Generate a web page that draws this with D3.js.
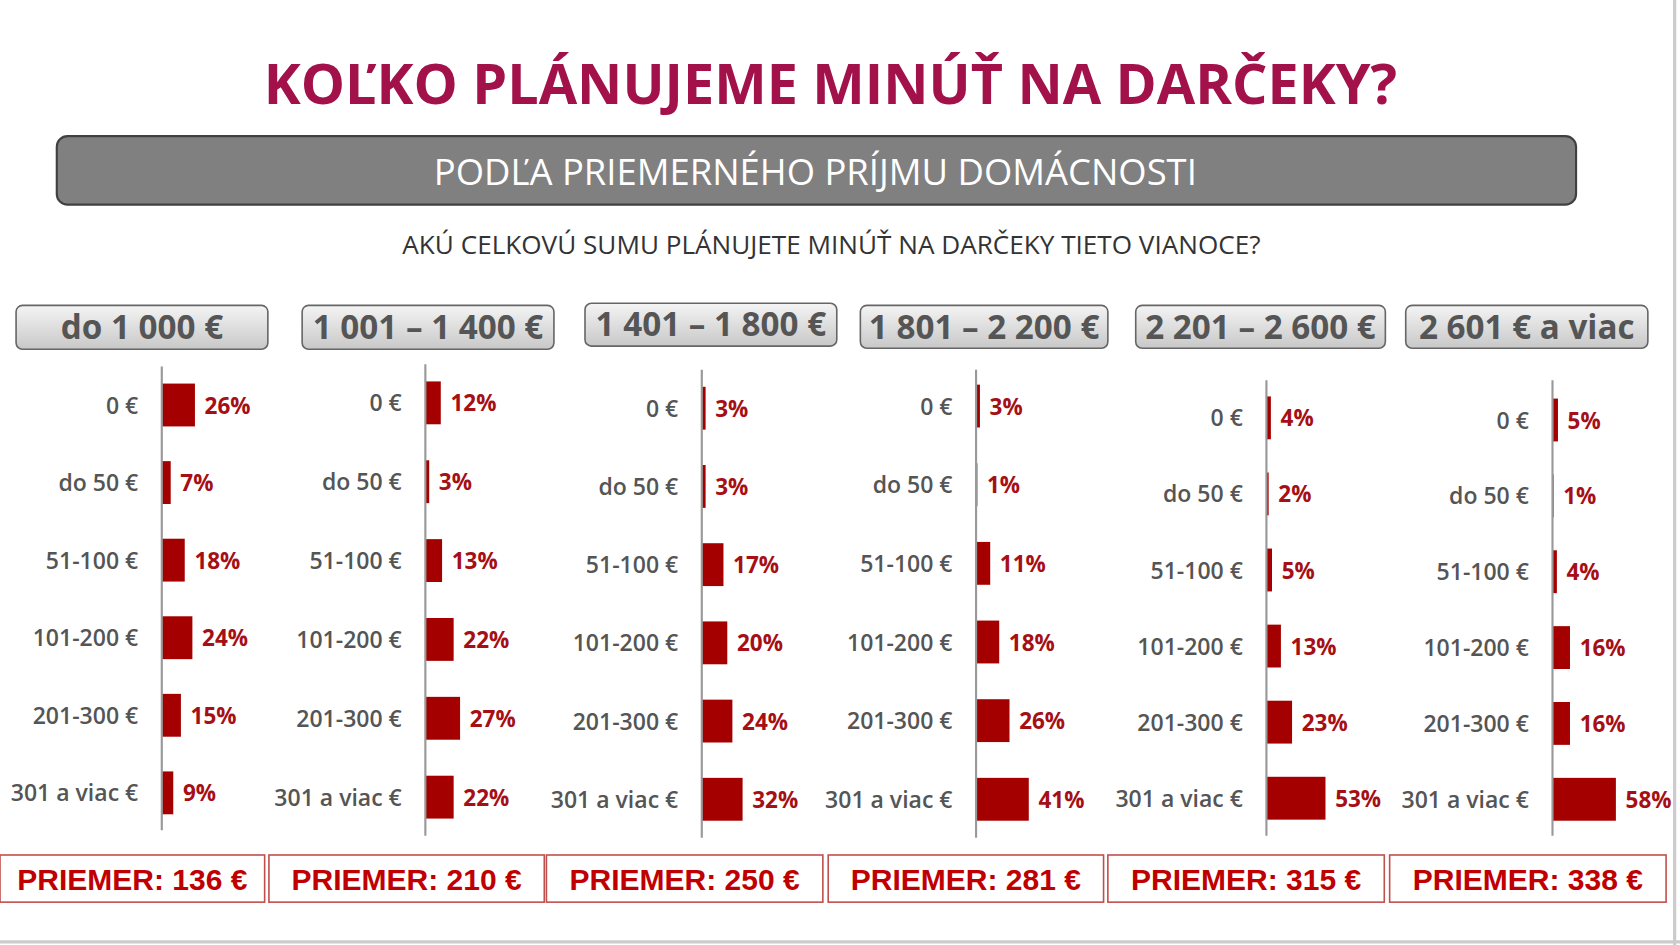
<!DOCTYPE html>
<html><head><meta charset="utf-8">
<script src="https://cdn.jsdelivr.net/npm/d3@7"></script>
<style>body{margin:0;background:#fff}svg{display:block}</style>
</head><body>
<script>
const title = "KOĽKO PLÁNUJEME MINÚŤ NA DARČEKY?";
const banner = "PODĽA PRIEMERNÉHO PRÍJMU DOMÁCNOSTI";
const question = "AKÚ CELKOVÚ SUMU PLÁNUJETE MINÚŤ NA DARČEKY TIETO VIANOCE?";
const groups = ["do 1 000 €","1 001 – 1 400 €","1 401 – 1 800 €","1 801 – 2 200 €","2 201 – 2 600 €","2 601 € a viac"];
const categories = ["0 €","do 50 €","51-100 €","101-200 €","201-300 €","301 a viac €"];
const values = [
  [26,7,18,24,15,9],
  [12,3,13,22,27,22],
  [3,3,17,20,24,32],
  [3,1,11,18,26,41],
  [4,2,5,13,23,53],
  [5,1,4,16,16,58]
];
const averages = [136,210,250,281,315,338];

// layout (in 1568x882 design space)
const headerBoxes = [[15,285,235,41],[282,285,235,41],[546,283,235,40],[803,285,231,40],[1060,285,233,40],[1312,285,226,40]];
const axisX = [151,397,655,911,1182,1449];
const axisY = [[342,775],[340,780],[345,782],[345,782],[355,780],[355,780]];
const rowFirst = [378,376,381,379,390,392], rowLast = [740,744,746,746,745,746];
const pxPerPct = [1.19,1.2,1.19,1.2,1.04,1.02];
const avgBoxes = [[0,247],[251,508],[510,768],[773,1030],[1034,1292],[1297,1555]];

const svg = d3.select("body").append("svg").attr("width",1680).attr("height",945).attr("viewBox","0 0 1568 882");
const defs = svg.append("defs");
const gr = defs.append("linearGradient").attr("id","hg").attr("x1",0).attr("y1",0).attr("x2",0).attr("y2",1);
gr.append("stop").attr("offset","0%").attr("stop-color","#f4f4f4");
gr.append("stop").attr("offset","100%").attr("stop-color","#c8c8c8");

svg.append("line").attr("x1",1563).attr("x2",1563).attr("y1",0).attr("y2",882).attr("stroke","#ccc").attr("stroke-width",3);
svg.append("line").attr("x1",0).attr("x2",1568).attr("y1",879).attr("y2",879).attr("stroke","#ccc").attr("stroke-width",3);

svg.append("text").attr("x",775).attr("y",97).attr("text-anchor","middle")
  .attr("font-family","Open Sans, sans-serif").attr("font-weight",700).attr("font-size",52).attr("fill","#A2114A").text(title);
svg.append("rect").attr("x",53).attr("y",127).attr("width",1418).attr("height",64).attr("rx",10)
  .attr("fill","#808080").attr("stroke","#404040").attr("stroke-width",2);
svg.append("text").attr("x",761).attr("y",173).attr("text-anchor","middle")
  .attr("font-family","Open Sans, sans-serif").attr("font-size",34).attr("fill","#fff").text(banner);
svg.append("text").attr("x",776).attr("y",237).attr("text-anchor","middle")
  .attr("font-family","Open Sans, sans-serif").attr("font-size",24.4).attr("fill","#333").text(question);

groups.forEach((gname,i)=>{
  const g = svg.append("g");
  const [hx,hy,hw,hh] = headerBoxes[i];
  g.append("rect").attr("x",hx).attr("y",hy).attr("width",hw).attr("height",hh).attr("rx",6)
    .attr("fill","url(#hg)").attr("stroke","#666").attr("stroke-width",1.5);
  g.append("text").attr("x",hx+hw/2).attr("y",hy+hh/2+11).attr("text-anchor","middle")
    .attr("font-family","Open Sans, sans-serif").attr("font-weight",700).attr("font-size",31).attr("fill","#555").text(gname);

  const y = d3.scalePoint().domain(categories).range([rowFirst[i],rowLast[i]]);
  const x = d3.scaleLinear().domain([0,100]).range([axisX[i],axisX[i]+100*pxPerPct[i]]);
  const bh = 40;
  g.selectAll("rect.bar").data(values[i]).join("rect").attr("class","bar")
    .attr("x",x(0)).attr("y",(d,j)=>y(categories[j])-bh/2).attr("width",d=>x(d)-x(0)).attr("height",bh).attr("fill","#A50000");
  g.selectAll("text.val").data(values[i]).join("text").attr("class","val")
    .attr("x",d=>x(d)+9).attr("y",(d,j)=>y(categories[j])+8)
    .attr("font-family","Open Sans, sans-serif").attr("font-weight",700).attr("font-size",21).attr("fill","#A50F15").text(d=>d+"%");
  g.selectAll("text.cat").data(categories).join("text").attr("class","cat")
    .attr("x",axisX[i]-22).attr("y",d=>y(d)+8).attr("text-anchor","end")
    .attr("font-family","Open Sans, sans-serif").attr("font-weight",600).attr("font-size",21.5).attr("fill","#555").text(d=>d);
  g.append("line").attr("x1",axisX[i]).attr("x2",axisX[i]).attr("y1",axisY[i][0]).attr("y2",axisY[i][1])
    .attr("stroke","#999").attr("stroke-width",2);

  const [ax0,ax1] = avgBoxes[i];
  g.append("rect").attr("x",ax0).attr("y",798).attr("width",ax1-ax0).attr("height",44)
    .attr("fill","#fff").attr("stroke","#C0504D").attr("stroke-width",1.5);
  g.append("text").attr("x",(ax0+ax1)/2).attr("y",831).attr("text-anchor","middle")
    .attr("font-family","Liberation Sans, Arial, sans-serif").attr("font-weight",700).attr("font-size",28).attr("fill","#C00000")
    .text("PRIEMER: "+averages[i]+" €");
});
</script>
</body></html>
